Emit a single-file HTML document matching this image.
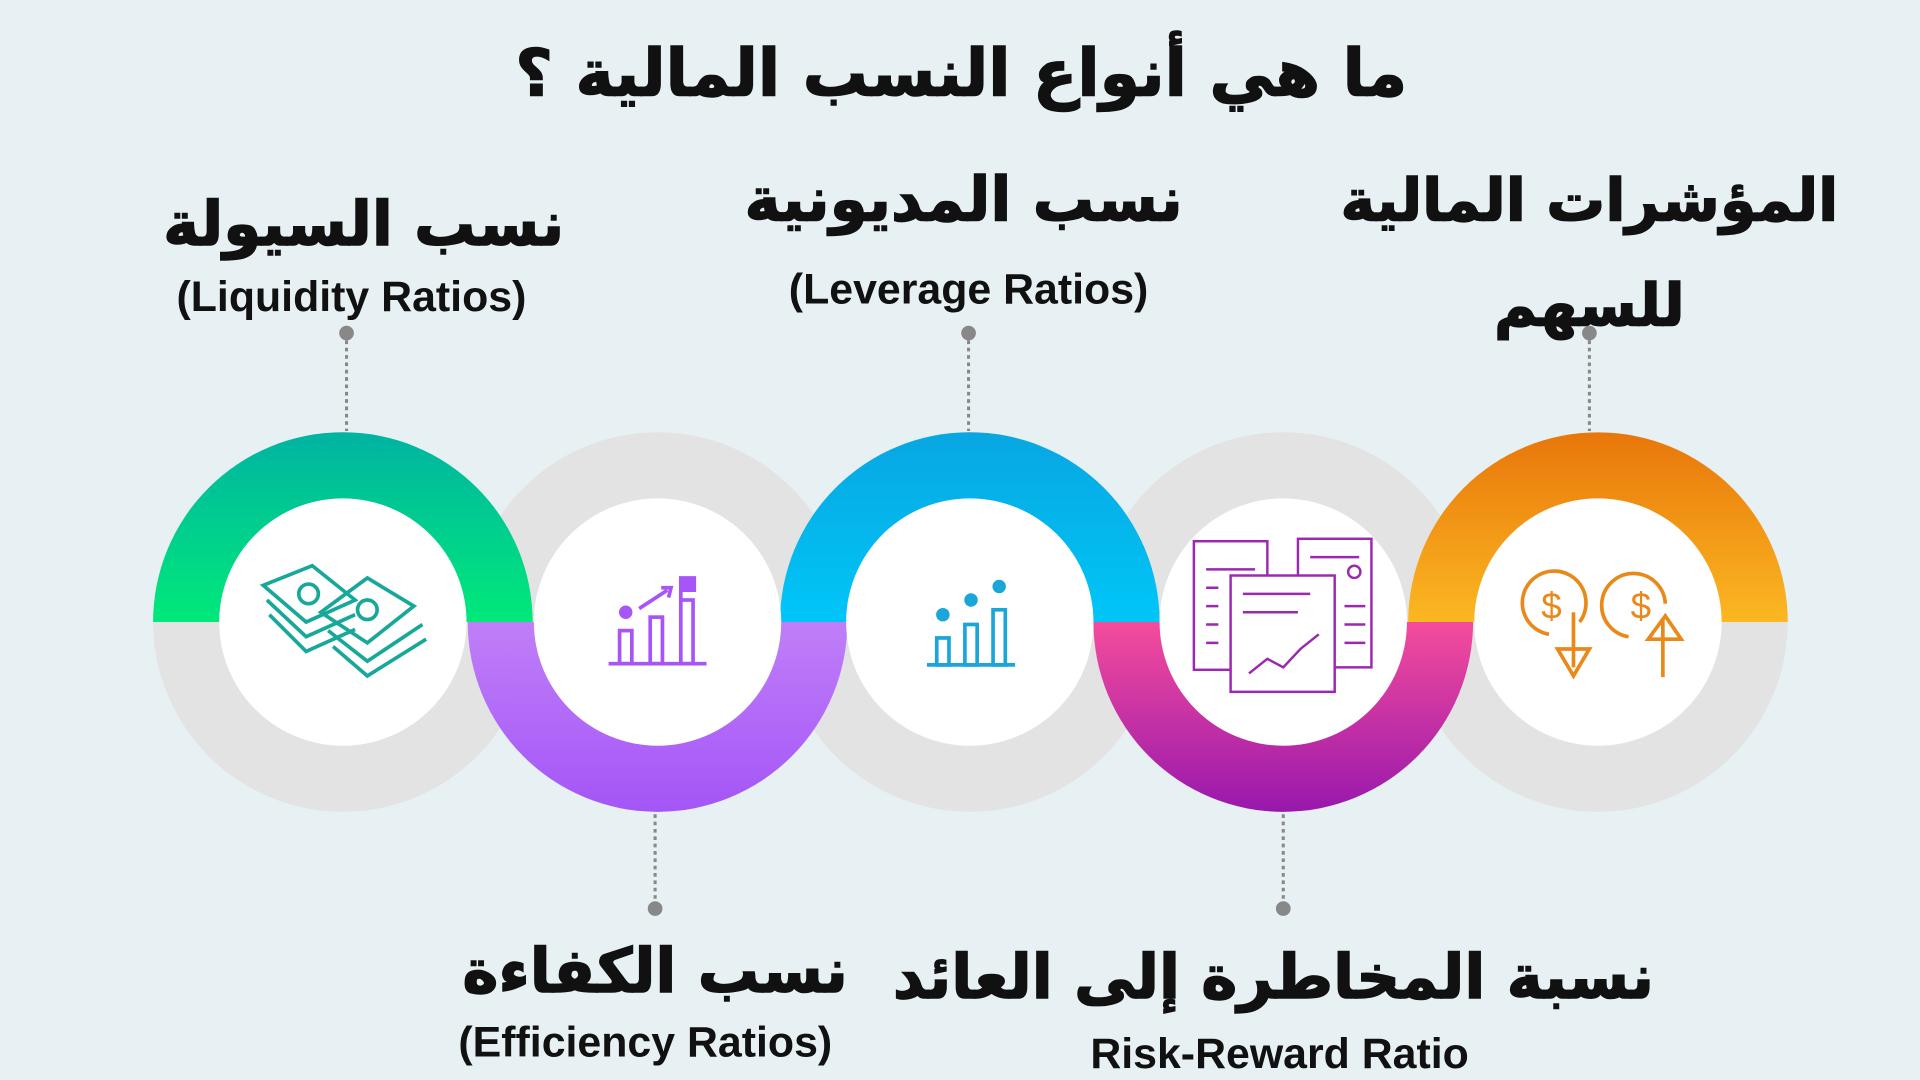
<!DOCTYPE html>
<html><head><meta charset="utf-8"><style>
html,body{margin:0;padding:0;background:#e7f1f4;}
svg{display:block}
.ar{font-family:"DejaVu Sans",sans-serif;font-weight:bold;fill:#111;text-anchor:middle;direction:rtl;stroke:#111;stroke-width:1.2}
.en{font-family:"Liberation Sans",sans-serif;font-weight:bold;fill:#111;text-anchor:middle}
</style></head><body>
<svg width="1920" height="1080" viewBox="0 0 1568 882" xmlns="http://www.w3.org/2000/svg">
<defs>
<linearGradient id="g1" x1="0" y1="0" x2="0" y2="1"><stop offset="0" stop-color="#00b3a2"/><stop offset="1" stop-color="#00e97a"/></linearGradient>
<linearGradient id="g2" x1="0" y1="0" x2="0" y2="1"><stop offset="0" stop-color="#c07ff8"/><stop offset="1" stop-color="#a455f7"/></linearGradient>
<linearGradient id="g3" x1="0" y1="0" x2="0" y2="1"><stop offset="0" stop-color="#08a6e2"/><stop offset="1" stop-color="#00c6f7"/></linearGradient>
<linearGradient id="g4" x1="0" y1="0" x2="0" y2="1"><stop offset="0" stop-color="#f54c9c"/><stop offset="1" stop-color="#9818ac"/></linearGradient>
<linearGradient id="g5" x1="0" y1="0" x2="0" y2="1"><stop offset="0" stop-color="#e8760a"/><stop offset="1" stop-color="#fbb822"/></linearGradient>
</defs>
<rect width="1568" height="882" fill="#e7f1f4"/>
<text x="785" y="78" class="ar" font-size="53">ما هي أنواع النسب المالية ؟</text>

<g fill="#e3e3e3">
<circle cx="280" cy="508" r="155"/><circle cx="537" cy="508" r="155"/><circle cx="792" cy="508" r="155"/><circle cx="1048" cy="508" r="155"/><circle cx="1305" cy="508" r="155"/>
</g>
<path d="M125 508 A155 155 0 0 1 435 508 Z" fill="url(#g1)"/>
<path d="M382 508 A155 155 0 0 0 692 508 Z" fill="url(#g2)"/>
<path d="M637 508 A155 155 0 0 1 947 508 Z" fill="url(#g3)"/>
<path d="M893 508 A155 155 0 0 0 1203 508 Z" fill="url(#g4)"/>
<path d="M1150 508 A155 155 0 0 1 1460 508 Z" fill="url(#g5)"/>
<g fill="#fff">
<circle cx="280" cy="508" r="101"/><circle cx="537" cy="508" r="101"/><circle cx="792" cy="508" r="101"/><circle cx="1048" cy="508" r="101"/><circle cx="1305" cy="508" r="101"/>
</g>

<g stroke="#888" stroke-width="2.5" stroke-dasharray="3 3">
<line x1="283" y1="272" x2="283" y2="352"/><line x1="791" y1="272" x2="791" y2="352"/><line x1="1298" y1="272" x2="1298" y2="352"/>
<line x1="535" y1="665" x2="535" y2="742"/><line x1="1048" y1="665" x2="1048" y2="742"/>
</g>
<g fill="#888"><circle cx="283" cy="272" r="6"/><circle cx="791" cy="272" r="6"/><circle cx="1298" cy="272" r="6"/><circle cx="535" cy="742" r="6"/><circle cx="1048" cy="742" r="6"/></g>

<g fill="none" stroke="#17a89a" stroke-width="3">
<path d="M215 478 L255 462 L290 490 L250 508 Z"/><path d="M218 490 L250 520 L290 502"/><path d="M220 502 L250 532 L290 514"/>
<path d="M262 500 L300 472 L338 495 L300 525 Z"/><path d="M268 515 L300 540 L345 510"/><path d="M272 528 L300 552 L348 522"/>
<circle cx="252" cy="485" r="8"/><circle cx="300" cy="498" r="8"/>
</g>
<g fill="none" stroke="#a855f7" stroke-width="3">
<line x1="497" y1="542" x2="577" y2="542"/><rect x="506" y="515" width="10" height="27"/><rect x="531" y="504" width="10" height="38"/><rect x="556" y="490" width="10" height="52"/>
<circle cx="511" cy="500" r="4" fill="#a855f7"/><path d="M522 497 L545 482"/><path d="M540 480 L548 480 L546 488"/>
<path d="M556 490 V472 H567 V482 H556" fill="#a855f7"/>
</g>
<g fill="none" stroke="#1aa6d8" stroke-width="3">
<line x1="757" y1="543" x2="829" y2="543"/><rect x="765" y="521" width="10" height="22"/><rect x="788" y="510" width="10" height="33"/><rect x="811" y="498" width="10" height="45"/>
<circle cx="770" cy="502" r="4" fill="#1aa6d8"/><circle cx="793" cy="490" r="4" fill="#1aa6d8"/><circle cx="816" cy="479" r="4" fill="#1aa6d8"/>
</g>
<g fill="#fff" stroke="#9c27b0" stroke-width="2">
<rect x="975" y="442" width="60" height="105"/><rect x="1060" y="440" width="60" height="105"/>
<rect x="1005" y="470" width="85" height="95"/>
<path d="M985 465 H1025 M985 480 H995 M985 495 H995 M985 510 H995 M985 525 H995 M1070 455 H1110 M1098 495 H1115 M1098 510 H1115 M1098 525 H1115 M1015 485 H1070 M1015 500 H1060" fill="none"/>
<path d="M1020 550 L1035 538 L1048 545 L1062 530 L1077 518" fill="none"/>
<circle cx="1106" cy="467" r="5"/>
</g>
<g fill="none" stroke="#e8891a" stroke-width="3">
<path d="M1290 508 A26 26 0 1 0 1265 518"/><path d="M1285 500 V545 M1272 530 L1285 552 L1298 530 Z"/>
<path d="M1330 520 A26 26 0 1 1 1360 493"/><path d="M1358 506 V553 M1346 522 L1360 503 L1373 522 Z"/>
</g>
<text x="1267" y="505" font-family="Liberation Sans" font-size="30" fill="#e8891a" text-anchor="middle">$</text>
<text x="1340" y="505" font-family="Liberation Sans" font-size="30" fill="#e8891a" text-anchor="middle">$</text>

<text x="297" y="200" class="ar" font-size="50">نسب السيولة</text>
<text x="287" y="254" class="en" font-size="35">(Liquidity Ratios)</text>
<text x="787" y="180" class="ar" font-size="50">نسب المديونية</text>
<text x="791" y="248" class="en" font-size="35">(Leverage Ratios)</text>
<text x="1298" y="180" class="ar" font-size="48">المؤشرات المالية</text>
<text x="1298" y="266" class="ar" font-size="48">للسهم</text>
<text x="535" y="810" class="ar" font-size="50">نسب الكفاءة</text>
<text x="527" y="863" class="en" font-size="35">(Efficiency Ratios)</text>
<text x="1040" y="815" class="ar" font-size="50">نسبة المخاطرة إلى العائد</text>
<text x="1045" y="872" class="en" font-size="35">Risk-Reward Ratio</text>
</svg>
</body></html>
